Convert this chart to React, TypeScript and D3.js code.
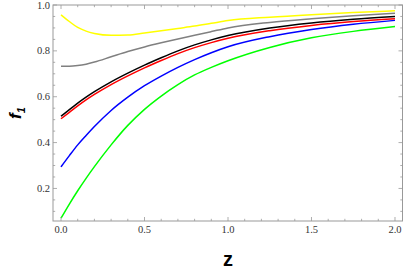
import * as d3 from 'd3'

const W = 404
const H = 273
const FRAME = { left: 53, right: 402.5, top: 5, bottom: 221 }

// sample positions along z
const zs = [0, 0.05, 0.1, 0.15, 0.2, 0.3, 0.4, 0.5, 0.6, 0.7, 0.8, 0.9, 1.0, 1.25, 1.5, 1.75, 2.0]

const yellowVals = [0.957, 0.928, 0.902, 0.886, 0.876, 0.868, 0.869, 0.878, 0.888, 0.898, 0.908, 0.92, 0.932, 0.947, 0.958, 0.967, 0.975]
const grayVals = [0.733, 0.733, 0.736, 0.742, 0.751, 0.774, 0.797, 0.817, 0.835, 0.852, 0.868, 0.884, 0.9, 0.924, 0.94, 0.953, 0.964]
const redVals = [0.504, 0.532, 0.56, 0.586, 0.61, 0.653, 0.691, 0.726, 0.758, 0.788, 0.814, 0.836, 0.855, 0.888, 0.911, 0.928, 0.94]
const blackVals = [0.515, 0.544, 0.572, 0.598, 0.622, 0.665, 0.703, 0.738, 0.77, 0.8, 0.826, 0.848, 0.867, 0.9, 0.922, 0.938, 0.95]
const blueVals = [0.294, 0.343, 0.39, 0.431, 0.47, 0.54, 0.598, 0.648, 0.69, 0.728, 0.762, 0.792, 0.818, 0.862, 0.893, 0.916, 0.933]
const greenVals = [0.07, 0.132, 0.19, 0.244, 0.295, 0.39, 0.475, 0.545, 0.603, 0.653, 0.695, 0.728, 0.757, 0.815, 0.857, 0.885, 0.906]

const series = [
  { color: '#00ff00', values: greenVals },
  { color: '#0000ff', values: blueVals },
  { color: '#ff0000', values: redVals },
  { color: '#000000', values: blackVals },
  { color: '#808080', values: grayVals },
  { color: '#ffff00', values: yellowVals },
]

const xMajor = [0, 0.5, 1.0, 1.5, 2.0]
const xMinor = d3.range(0, 2.01, 0.1)
const yMajor = [0.2, 0.4, 0.6, 0.8, 1.0]
const yMinor = d3.range(0.1, 1.001, 0.05)

export default function App() {
  const x = d3.scaleLinear().domain([-0.048, 2.045]).range([FRAME.left, FRAME.right])
  const y = d3.scaleLinear().domain([0.058, 1.0]).range([FRAME.bottom, FRAME.top])

  const line = d3.line<[number, number]>()
    .x(d => x(d[0]))
    .y(d => y(d[1]))
    .curve(d3.curveMonotoneX)

  const tickColor = '#999'
  const major = 4
  const minor = 2.2

  return (
    <svg width={W} height={H} style={{ position: 'absolute', left: 0, top: 0 }}>
      <rect width={W} height={H} fill="white" />

      {/* curves */}
      {series.map((s, i) => (
        <path
          key={i}
          d={line(zs.map((z, j) => [z, s.values[j]] as [number, number])) || ''}
          fill="none"
          stroke={s.color}
          strokeWidth={1.5}
        />
      ))}

      {/* frame */}
      <rect
        x={FRAME.left}
        y={FRAME.top}
        width={FRAME.right - FRAME.left}
        height={FRAME.bottom - FRAME.top}
        fill="none"
        stroke={tickColor}
        strokeWidth={1}
      />

      {/* x ticks, bottom and top */}
      {xMinor.map((v, i) => {
        const len = xMajor.some(m => Math.abs(m - v) < 1e-6) ? major : minor
        const px = x(v)
        return (
          <g key={`xt-${i}`} stroke={tickColor} strokeWidth={0.8}>
            <line x1={px} x2={px} y1={FRAME.bottom} y2={FRAME.bottom - len} />
            <line x1={px} x2={px} y1={FRAME.top} y2={FRAME.top + len} />
          </g>
        )
      })}

      {/* y ticks, left and right */}
      {yMinor.map((v, i) => {
        const len = yMajor.some(m => Math.abs(m - v) < 1e-6) ? major : minor
        const py = y(v)
        return (
          <g key={`yt-${i}`} stroke={tickColor} strokeWidth={0.8}>
            <line x1={FRAME.left} x2={FRAME.left + len} y1={py} y2={py} />
            <line x1={FRAME.right} x2={FRAME.right - len} y1={py} y2={py} />
          </g>
        )
      })}

      {/* tick labels */}
      {xMajor.map((v, i) => (
        <text
          key={`xl-${i}`}
          x={x(v)}
          y={232.5}
          textAnchor="middle"
          fontFamily="Liberation Serif, serif"
          fontSize={10.5}
          fill="#333"
        >
          {v.toFixed(1)}
        </text>
      ))}
      {yMajor.map((v, i) => (
        <text
          key={`yl-${i}`}
          x={FRAME.left - 3}
          y={y(v) + 3.5}
          textAnchor="end"
          fontFamily="Liberation Serif, serif"
          fontSize={10.5}
          fill="#333"
        >
          {v.toFixed(1)}
        </text>
      ))}

      {/* axis titles */}
      <text
        x={228}
        y={266}
        textAnchor="middle"
        fontFamily="Liberation Sans, Arial, sans-serif"
        fontWeight="bold"
        fontSize={20}
        fill="#000"
      >
        z
      </text>
      <text
        transform="translate(21, 113) rotate(-90)"
        textAnchor="middle"
        fontFamily="Liberation Sans, Arial, sans-serif"
        fontWeight="bold"
        fontStyle="italic"
        fontSize={17}
        fill="#000"
      >
        f<tspan fontSize={11} dy={4}>1</tspan>
      </text>
    </svg>
  )
}
